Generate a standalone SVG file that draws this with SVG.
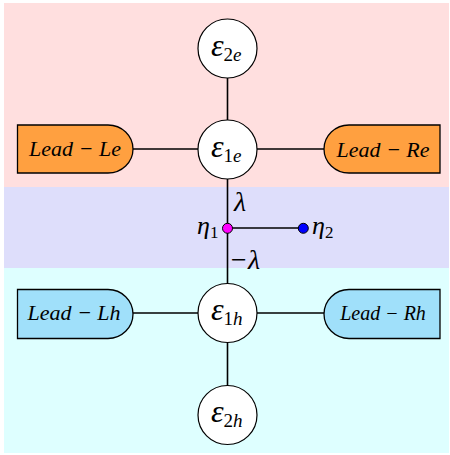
<svg xmlns="http://www.w3.org/2000/svg" width="450" height="455" viewBox="0 0 450 455">
<style>
.node circle{fill:#fff;stroke:#000;stroke-width:1.2}
.lead{stroke:#000;stroke-width:1.3}
.or{fill:#FFA040}
.bl{fill:#A0E0FA}
text{font-family:'Liberation Serif','Times New Roman',serif;font-style:italic;fill:#000}
.eps{font-size:32px}
.sub{font-size:19px}
.lt{font-size:22px}
#connectors line{stroke:#000;stroke-width:1.6}
</style>
<rect x="4" y="3" width="445" height="184" fill="#FFDFDF"/>
<rect x="4" y="187" width="445" height="81" fill="#DEDEFB"/>
<rect x="4" y="268" width="445" height="185" fill="#DEFFFF"/>
<g id="connectors">
<line x1="227.5" y1="78" x2="227.5" y2="120"/>
<line x1="133" y1="149" x2="198" y2="149"/>
<line x1="257" y1="149" x2="324" y2="149"/>
<line x1="227.5" y1="179" x2="227.5" y2="284"/>
<line x1="227.5" y1="228" x2="303" y2="228"/>
<line x1="133" y1="313" x2="198" y2="313"/>
<line x1="257" y1="313" x2="324" y2="313"/>
<line x1="227.5" y1="343" x2="227.5" y2="386"/>
</g>
<g id="e2e" class="node"><circle cx="227.5" cy="48.5" r="29.5"/><text class="eps" x="211" y="56">ε<tspan class="sub" dy="5" font-style="normal">2</tspan><tspan class="sub">e</tspan></text></g>
<g id="e1e" class="node"><circle cx="227.5" cy="149.5" r="29.5"/><text class="eps" x="211" y="157">ε<tspan class="sub" dy="5" font-style="normal">1</tspan><tspan class="sub">e</tspan></text></g>
<g id="leadLe"><path class="lead or" d="M17.5,125 H108 A25,24 0 0 1 108,173 H17.5 Z"/><text class="lt" x="75" y="156" text-anchor="middle">Lead − Le</text></g>
<g id="leadRe"><path class="lead or" d="M440,125 H349 A25,24 0 0 0 349,173 H440 Z"/><text class="lt" x="383" y="157" text-anchor="middle">Lead − Re</text></g>
<g id="eta1"><circle cx="227.5" cy="228.3" r="5" fill="#FF00FF" stroke="#000" stroke-width="1"/><text font-size="26" x="197" y="234">η<tspan font-size="17" font-style="normal" dy="4">1</tspan></text></g>
<g id="eta2"><circle cx="303.3" cy="228.3" r="5" fill="#0000FF" stroke="#000" stroke-width="1"/><text font-size="26" x="312" y="234">η<tspan font-size="17" font-style="normal" dy="4">2</tspan></text></g>
<text font-size="28" x="234" y="211">λ</text>
<text font-size="28" x="229" y="269">−λ</text>
<g id="e1h" class="node"><circle cx="227.5" cy="313" r="29.5"/><text class="eps" x="211" y="320">ε<tspan class="sub" dy="5" font-style="normal">1</tspan><tspan class="sub">h</tspan></text></g>
<g id="e2h" class="node"><circle cx="227.5" cy="415" r="29.5"/><text class="eps" x="211" y="422">ε<tspan class="sub" dy="5" font-style="normal">2</tspan><tspan class="sub">h</tspan></text></g>
<g id="leadLh"><path class="lead bl" d="M17.5,289.5 H108 A25,24.5 0 0 1 108,338.5 H17.5 Z"/><text class="lt" x="74" y="320" text-anchor="middle">Lead − Lh</text></g>
<g id="leadRh"><path class="lead bl" d="M440,289.5 H349 A25,24.5 0 0 0 349,338.5 H440 Z"/><text font-size="20" x="383" y="320" text-anchor="middle">Lead − Rh</text></g>
</svg>
